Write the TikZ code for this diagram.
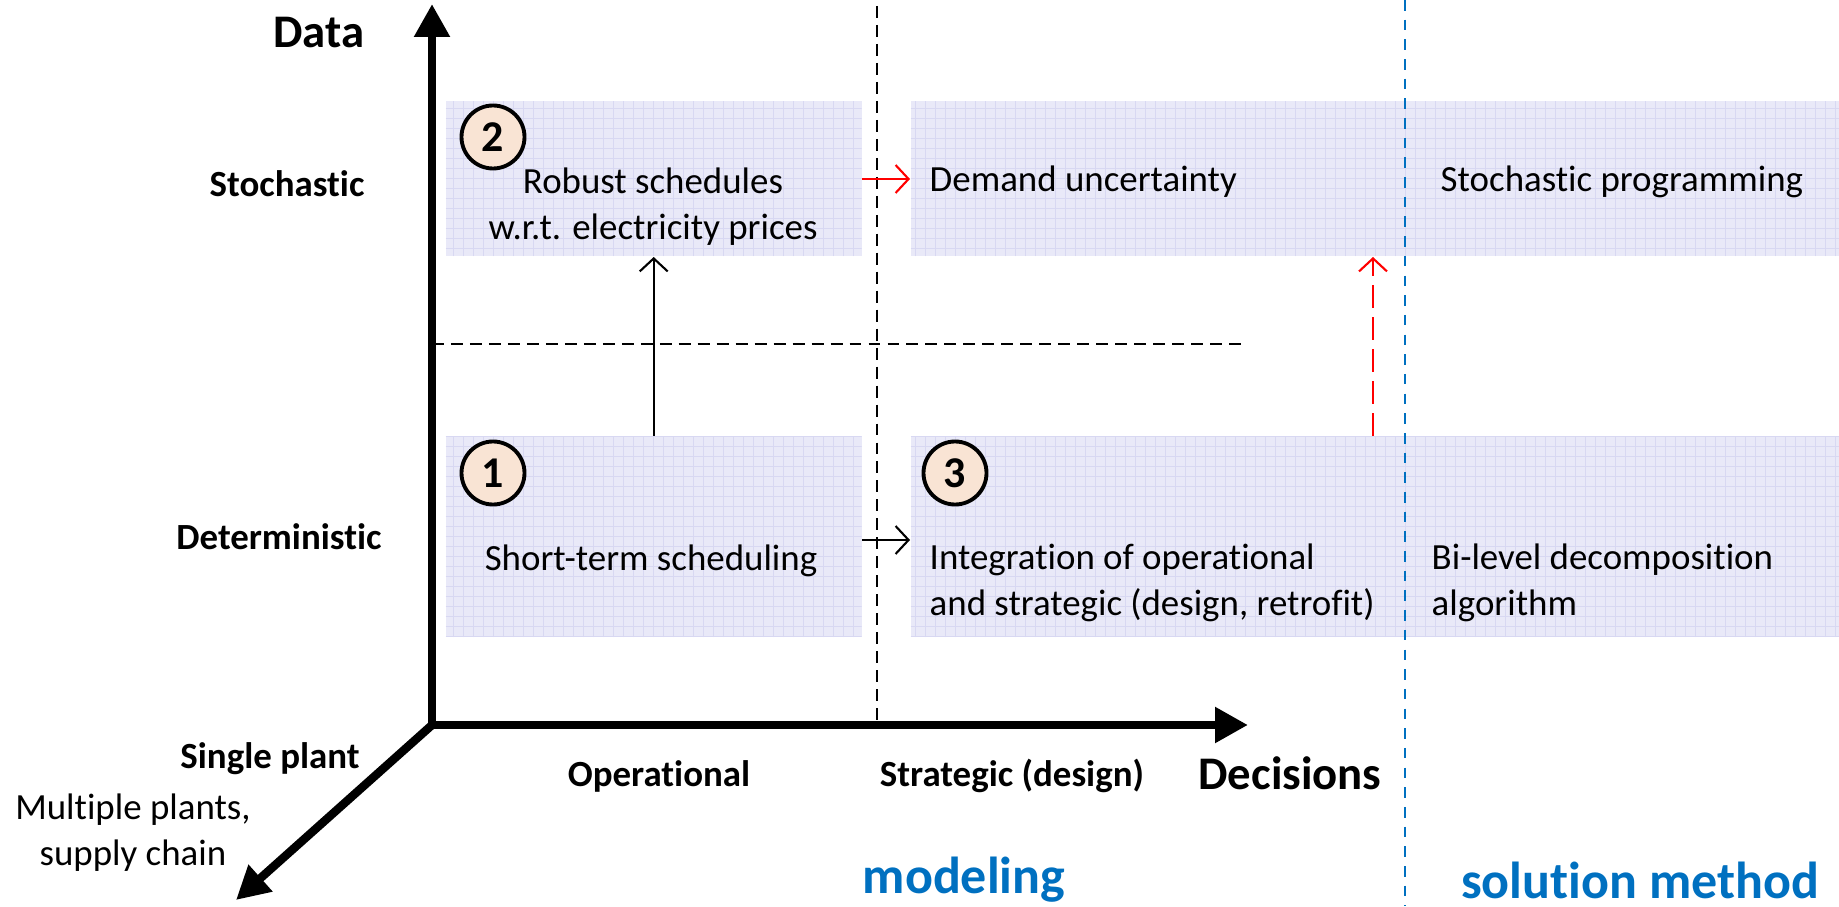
\documentclass[tikz,border=0pt]{standalone}
\usepackage{fontspec}
\setmainfont{Carlito}[Ligatures=NoCommon]
\usetikzlibrary{arrows.meta,positioning}

\definecolor{cellfill}{RGB}{233,233,248}
\definecolor{cellgrid}{RGB}{216,216,242}
\definecolor{badgefill}{RGB}{249,228,212}
\definecolor{modelblue}{RGB}{0,112,192}

\begin{document}
\begin{tikzpicture}[
    axis/.style={draw, line width=2.4pt, -{Triangle[length=0.33cm, width=0.34cm]}},
    cell/.style={fill=cellfill, inner sep=0pt, anchor=south west,
        path picture={\draw[cellgrid, line width=0.3pt, step=0.1]
            (path picture bounding box.south west) grid (path picture bounding box.north east);}},
    badge/.style={circle, draw, line width=1.1pt, fill=badgefill, minimum size=0.63cm,
        inner sep=0pt, font=\bfseries\fontsize{12.5}{12.5}\selectfont},
    txt/.style={font=\fontsize{10.5}{13}\selectfont, inner sep=0pt},
    lbl/.style={font=\bfseries\fontsize{10.5}{13}\selectfont, inner sep=0pt},
    head/.style={font=\bfseries\fontsize{13.3}{16}\selectfont, inner sep=0pt},
    part/.style={font=\bfseries\fontsize{14.8}{18}\selectfont, inner sep=0pt, text=modelblue},
    link/.style={draw, line width=0.6pt, -{Straight Barb[length=1.3mm, width=2.8mm]}},
    redlink/.style={link, red},
    dashed_line/.style={draw, line width=0.6pt, dash pattern=on 3.4pt off 2pt},
    blue_line/.style={draw, line width=0.8pt, modelblue, dash pattern=on 3pt off 2.6pt}
]
    \useasboundingbox (0,0) rectangle (18.39,9.06);

    % Define coordinates
    \def\axX{4.32}
    \def\axY{1.81}
    \def\opsX{4.45}
    \def\strX{9.10}
    \def\stoY{6.49}
    \def\detY{2.68}

    % Cells
    \node[cell, minimum width=4.16cm, minimum height=1.55cm] (robust) at (\opsX,\stoY) {};
    \node[cell, minimum width=4.16cm, minimum height=2.01cm] (short) at (\opsX,\detY) {};
    \node[cell, minimum width=9.30cm, minimum height=1.55cm] (demand) at (\strX,\stoY) {};
    \node[cell, minimum width=9.30cm, minimum height=2.01cm] (integ) at (\strX,\detY) {};

    % Dashed separators
    \draw[dashed_line] (8.77,9.00) -- (8.77,\axY);
    \draw[dashed_line] (\axX,5.62) -- (12.46,5.62);
    \draw[blue_line] (14.05,9.06) -- (14.05,0);

    % Axes
    \coordinate (O) at (\axX,\axY);
    \coordinate (dataEnd) at (\axX,9.02);
    \coordinate (decEnd) at (12.48,\axY);
    \coordinate (plantEnd) at (2.36,0.06);
    \draw[axis] (O) -- (dataEnd);
    \draw[axis] (O) -- (decEnd);
    \draw[axis] (O) -- (plantEnd);

    % Axis labels
    \node[head] (data) at (3.19,8.73) {Data};
    \node[lbl] (stoch) at (2.87,7.22) {Stochastic};
    \node[lbl] (determ) at (2.79,3.69) {Deterministic};
    \node[lbl] (single) at (2.70,1.47) {Single plant};
    \node[txt, align=center] (multi) at (1.33,0.73) {Multiple plants,\\supply chain};
    \node[lbl] (oper) at (6.59,1.30) {Operational};
    \node[lbl] (strat) at (10.12,1.30) {Strategic (design)};
    \node[head] (decis) at (12.90,1.33) {Decisions};
    \node[part] (modeling) at (9.64,0.26) {modeling};
    \node[part] (solution) at (16.40,0.26) {solution method};

    % Cell texts
    \node[txt, align=center] (robustTxt) at (6.53,6.99) {Robust schedules\\w.r.t. electricity prices};
    \node[txt] (shortTxt) at (6.51,3.45) {Short-term scheduling};
    \node[txt, anchor=west] (demandTxt) at (9.29,7.24) {Demand uncertainty};
    \node[txt, anchor=west] (progTxt) at (14.40,7.24) {Stochastic programming};
    \node[txt, anchor=west, align=left] (integTxt) at (9.29,3.23) {Integration of operational\\and strategic (design, retrofit)};
    \node[txt, anchor=west, align=left] (bilevTxt) at (14.31,3.23) {Bi-level decomposition\\algorithm};

    % Badges
    \node[badge] (one) at (4.93,4.33) {1};
    \node[badge] (two) at (4.93,7.69) {2};
    \node[badge] (three) at (9.55,4.33) {3};

    % Links between cells
    \coordinate (riseX) at (13.73,0);
    \draw[link] (short) -- (robust);
    \draw[link] (short.east |- 0,3.66) -- (integ.west |- 0,3.66);
    \draw[redlink] (robust.east |- 0,7.27) -- (demand.west |- 0,7.27);
    \draw[redlink, dash pattern=on 6.5pt off 2.6pt] (integ.north -| riseX) -- (demand.south -| riseX);

\end{tikzpicture}
\end{document}
